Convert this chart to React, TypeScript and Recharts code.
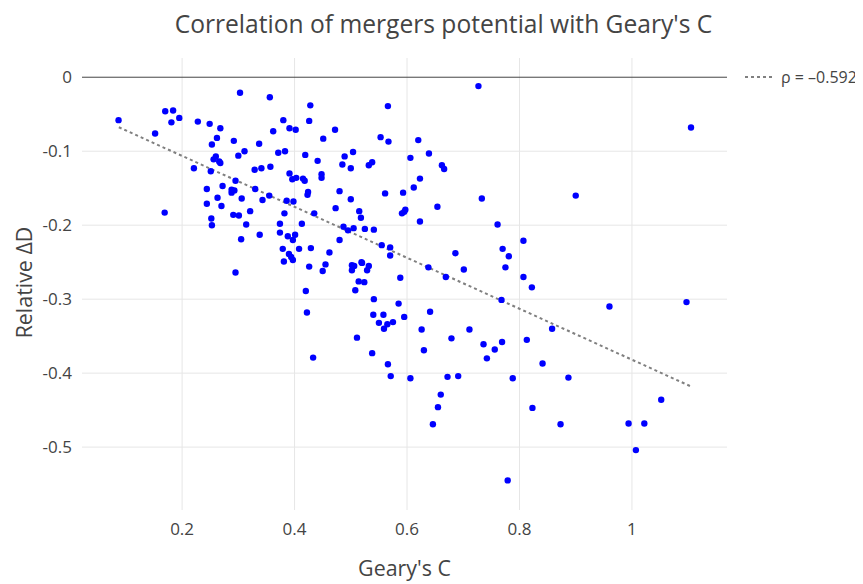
import React from "react";
import {
  ScatterChart,
  Scatter,
  XAxis,
  YAxis,
  ReferenceLine,
} from "recharts";

const TITLE = "Correlation of mergers potential with Geary's C";
const X_LABEL = "Geary's C";
const Y_LABEL = "Relative \u0394D";
const LEGEND_LABEL = "\u03c1 = \u20130.592";

const gearyC = [
  0.303, 0.356, 0.170, 0.184, 0.181, 0.195, 0.087, 0.228, 0.249, 0.268,
  0.152, 0.262, 0.292, 0.253, 0.337, 0.311, 0.300, 0.260, 0.256, 0.266,
  0.268, 0.221, 0.251, 0.329, 0.341, 0.357, 0.295, 0.272, 0.244, 0.288,
  0.293, 0.288, 0.330, 0.355, 0.263, 0.306, 0.343, 0.244, 0.270, 0.321,
  0.169, 0.291, 0.301, 0.252, 0.314, 0.253, 0.338, 0.305, 0.295, 0.428,
  0.566, 0.380, 0.426, 0.362, 0.391, 0.402, 0.472, 0.451, 0.553, 0.567,
  0.620, 0.371, 0.383, 0.419, 0.489, 0.504, 0.639, 0.606, 0.441, 0.485,
  0.500, 0.532, 0.538, 0.391, 0.396, 0.403, 0.415, 0.418, 0.448, 0.448,
  0.623, 0.612, 0.480, 0.424, 0.423, 0.386, 0.398, 0.561, 0.593, 0.500,
  0.654, 0.473, 0.597, 0.591, 0.595, 0.382, 0.435, 0.515, 0.518, 0.623,
  0.374, 0.413, 0.487, 0.495, 0.505, 0.525, 0.541, 0.374, 0.388, 0.397,
  0.401, 0.480, 0.555, 0.570, 0.570, 0.379, 0.408, 0.429, 0.462, 0.390,
  0.394, 0.397, 0.381, 0.426, 0.455, 0.450, 0.502, 0.506, 0.502, 0.519,
  0.520, 0.532, 0.529, 0.638, 0.588, 0.514, 0.524, 0.508, 0.420, 0.541,
  0.585, 0.422, 0.540, 0.558, 0.550, 0.565, 0.575, 0.559, 0.595, 0.641,
  0.626, 0.511, 0.538, 0.630, 0.433, 0.566, 0.571, 0.606, 0.660, 0.727,
  0.662, 0.666, 0.900, 0.733, 0.761, 0.807, 0.686, 0.770, 0.781, 0.775,
  0.701, 0.669, 0.807, 0.822, 0.768, 0.711, 0.858, 0.679, 0.736, 0.769,
  0.756, 0.742, 0.813, 0.841, 0.672, 0.691, 0.788, 0.887, 0.655, 0.823,
  0.646, 0.873, 0.779, 0.960, 1.097, 1.052, 0.994, 1.022, 1.007, 1.105,
];

const relativeDeltaD = [
  -0.021, -0.027, -0.046, -0.045, -0.061, -0.055, -0.058, -0.060, -0.063, -0.069,
  -0.076, -0.082, -0.086, -0.091, -0.090, -0.100, -0.106, -0.107, -0.111, -0.114,
  -0.116, -0.123, -0.127, -0.125, -0.123, -0.121, -0.140, -0.147, -0.151, -0.152,
  -0.153, -0.156, -0.151, -0.160, -0.163, -0.164, -0.166, -0.171, -0.174, -0.181,
  -0.183, -0.186, -0.187, -0.191, -0.199, -0.200, -0.213, -0.219, -0.264, -0.038,
  -0.039, -0.058, -0.059, -0.073, -0.069, -0.071, -0.071, -0.083, -0.081, -0.087,
  -0.085, -0.102, -0.100, -0.105, -0.107, -0.101, -0.103, -0.109, -0.113, -0.118,
  -0.123, -0.119, -0.115, -0.130, -0.138, -0.136, -0.137, -0.140, -0.131, -0.136,
  -0.137, -0.149, -0.154, -0.155, -0.159, -0.167, -0.168, -0.157, -0.156, -0.165,
  -0.175, -0.177, -0.179, -0.184, -0.182, -0.184, -0.184, -0.181, -0.190, -0.195,
  -0.198, -0.198, -0.202, -0.207, -0.204, -0.205, -0.206, -0.210, -0.215, -0.220,
  -0.213, -0.220, -0.227, -0.230, -0.241, -0.232, -0.232, -0.231, -0.237, -0.239,
  -0.243, -0.247, -0.249, -0.256, -0.253, -0.262, -0.254, -0.255, -0.261, -0.250,
  -0.251, -0.255, -0.261, -0.257, -0.271, -0.276, -0.277, -0.288, -0.289, -0.300,
  -0.306, -0.318, -0.321, -0.321, -0.332, -0.334, -0.331, -0.340, -0.324, -0.317,
  -0.341, -0.352, -0.373, -0.369, -0.379, -0.388, -0.404, -0.407, -0.429, -0.012,
  -0.119, -0.124, -0.160, -0.164, -0.199, -0.221, -0.238, -0.232, -0.242, -0.257,
  -0.260, -0.270, -0.270, -0.284, -0.301, -0.341, -0.340, -0.353, -0.361, -0.358,
  -0.368, -0.380, -0.355, -0.387, -0.405, -0.404, -0.407, -0.406, -0.446, -0.447,
  -0.469, -0.469, -0.545, -0.310, -0.304, -0.436, -0.468, -0.468, -0.504, -0.068,
];

// fitted trend line endpoints
const fitX = [0.0875, 1.105];
const fitY = [-0.0676, -0.418];

const xTicks = [0.2, 0.4, 0.6, 0.8, 1];
const yTicks = [0, -0.1, -0.2, -0.3, -0.4, -0.5];
const xDomain = [0.022, 1.169];
const yDomain = [-0.585, 0.026];

const points = gearyC.map((x, i) => ({ x, y: relativeDeltaD[i] }));
const fitLine = fitX.map((x, i) => ({ x, y: fitY[i] }));

const FONT = "'Open Sans', 'Noto Sans', sans-serif";
const TEXT = "#444";
const GRID = "#e6e6e6";

const W = 855;
const H = 576;

const Dot = (props: any) => {
  const { cx, cy } = props;
  if (cx == null || cy == null) return <g />;
  return <circle cx={cx} cy={cy} r={3.2} fill="#0000ff" />;
};

const NoDot = () => <g />;

export default function App() {
  return (
    <div style={{ position: "relative", width: W, height: H, fontFamily: FONT }}>
      <ScatterChart
        width={W}
        height={H}
        margin={{ top: 50, right: 136, bottom: 0, left: 0 }}
        style={{ fontFamily: FONT }}
      >
        <XAxis
          type="number"
          dataKey="x"
          domain={xDomain}
          ticks={xTicks}
          allowDataOverflow
          height={74}
          axisLine={false}
          tickLine={false}
          tickMargin={7}
          tick={{ fill: TEXT, fontSize: 17, fontFamily: FONT }}
          tickFormatter={(v: number) => String(v)}
          label={{
            content: () => (
              <text
                x={396.5}
                y={568}
                textAnchor="middle"
                fill={TEXT}
                fontSize={21.4}
                fontFamily={FONT}
              >
                {X_LABEL}
              </text>
            ),
          }}
        />
        <YAxis
          type="number"
          dataKey="y"
          domain={yDomain}
          ticks={yTicks}
          allowDataOverflow
          width={74}
          axisLine={false}
          tickLine={false}
          tickMargin={4}
          tick={{ fill: TEXT, fontSize: 17, fontFamily: FONT }}
          tickFormatter={(v: number) => String(v)}
          label={{
            content: () => (
              <text
                x={23.7}
                y={274.5}
                transform="rotate(-90 23.7 274.5)"
                textAnchor="middle"
                fill={TEXT}
                fontSize={21.4}
                fontFamily={FONT}
              >
                {Y_LABEL}
              </text>
            ),
          }}
        />
        {xTicks.map((t) => (
          <ReferenceLine key={`gx${t}`} x={t} stroke={GRID} strokeWidth={1} />
        ))}
        {yTicks
          .filter((t) => t !== 0)
          .map((t) => (
            <ReferenceLine key={`gy${t}`} y={t} stroke={GRID} strokeWidth={1} />
          ))}
        <ReferenceLine y={0} stroke="#444" strokeWidth={1} />
        <Scatter
          data={fitLine}
          line={{ stroke: "#808080", strokeWidth: 2, strokeDasharray: "3 3" }}
          shape={NoDot}
          isAnimationActive={false}
        />
        <Scatter data={points} shape={Dot} isAnimationActive={false} />
      </ScatterChart>
      <svg
        width={W}
        height={H}
        style={{
          position: "absolute",
          left: 0,
          top: 0,
          pointerEvents: "none",
          overflow: "visible",
        }}
      >
        <text
          x={435.5}
          y={24.5}
          textAnchor="middle"
          fill={TEXT}
          fontSize={24.6}
          fontFamily={FONT}
        >
          {TITLE}
        </text>
        <line
          x1={737}
          y1={69}
          x2={764}
          y2={69}
          stroke="#808080"
          strokeWidth={2}
          strokeDasharray="3 3"
        />
        <text x={773} y={74.5} fill={TEXT} fontSize={16} fontFamily={FONT}>
          {LEGEND_LABEL}
        </text>
      </svg>
    </div>
  );
}
